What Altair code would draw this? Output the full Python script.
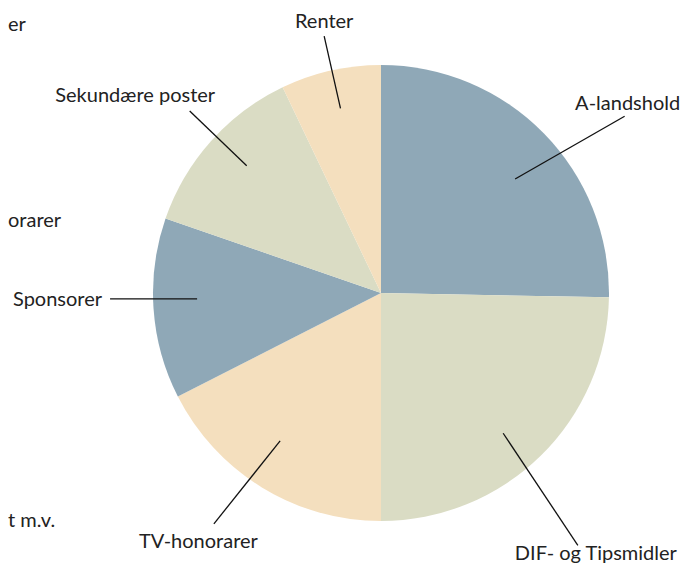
import math
import altair as alt
import pandas as pd

# ---- data ----
categories = ["A-landshold", "DIF- og Tipsmidler", "TV-honorarer", "Sponsorer", "Sekundære poster", "Renter"]
shares = [25.3, 24.7, 17.5, 12.8, 12.6, 7.1]
colour_groups = ["blå", "grøn", "fersken", "blå", "grøn", "fersken"]
edge_fragments = ["er", "orarer", "t m.v."]

# ---- layout / style ----
W, H = 676, 556
CX, CY, R = 373, 285, 228
FONT = "Lato"
FS = 20
TXT = "#222222"
palette_domain = ["blå", "grøn", "fersken"]
palette_range = ["#8fa8b7", "#dadcc4", "#f4dfbe"]

# leader layout per label: (d_ang_in, r_in, d_ang_out, r_out, text_dx, text_dy, align)
leader = {
    "A-landshold": (4.1, 176, 8.5, 301, 3, -6, "center"),
    "DIF- og Tipsmidler": (3.4, 186, 6.5, 320, 18, 15, "center"),
    "TV-honorarer": (2.8, 179, 4.4, 285, -15.5, 24, "center"),
    "Sponsorer": (2.1, 184, 2.7, 271, -8, 7, "right"),
    "Sekundære poster": (1.7, 185, 1.8, 264, -54.5, -9, "center"),
    "Renter": (0.4, 189, 0.3, 263, 0, -8, "center"),
}
frag_y = [23, 219, 519]

df = pd.DataFrame({"kategori": categories, "andel": shares, "gruppe": colour_groups,
                   "orden": list(range(len(categories)))})

total = sum(shares)
rows = []
cum = 0.0
for c, v in zip(categories, shares):
    mid = (cum + v / 2) / total * 360
    cum += v
    dai, ri, dao, ro, tdx, tdy, al = leader[c]
    ai = math.radians(mid + dai)
    ao = math.radians(mid + dao)
    x1, y1 = CX + ri * math.sin(ai), CY - ri * math.cos(ai)
    x2, y2 = CX + ro * math.sin(ao), CY - ro * math.cos(ao)
    rows.append({"kategori": c, "x": x1, "y": y1, "x2": x2, "y2": y2,
                 "tx": x2 + tdx, "ty": y2 + tdy, "align": al})
lines = pd.DataFrame(rows)

frags = pd.DataFrame({"t": edge_fragments, "tx": [0] * len(edge_fragments), "ty": frag_y})

xs = alt.Scale(domain=[0, W], range=[0, W])
ys = alt.Scale(domain=[0, H], range=[0, H])

pie = alt.Chart(df).mark_arc(outerRadius=R).encode(
    theta=alt.Theta("andel:Q", stack=True),
    order=alt.Order("orden:Q", sort="ascending"),
    color=alt.Color("gruppe:N", scale=alt.Scale(domain=palette_domain, range=palette_range), legend=None),
    x=alt.value(CX),
    y=alt.value(CY),
)

rules = alt.Chart(lines).mark_rule(color="#111111", strokeWidth=1.3).encode(
    x=alt.X("x:Q", scale=xs, axis=None),
    y=alt.Y("y:Q", scale=ys, axis=None),
    x2="x2:Q",
    y2="y2:Q",
)

def label_layer(align):
    return alt.Chart(lines).transform_filter(alt.datum.align == align).mark_text(
        font=FONT, fontSize=FS, color=TXT, align=align, baseline="alphabetic"
    ).encode(
        x=alt.X("tx:Q", scale=xs, axis=None),
        y=alt.Y("ty:Q", scale=ys, axis=None),
        text="kategori:N",
    )

frag_layer = alt.Chart(frags).mark_text(
    font=FONT, fontSize=FS, color=TXT, align="left", baseline="alphabetic"
).encode(
    x=alt.X("tx:Q", scale=xs, axis=None),
    y=alt.Y("ty:Q", scale=ys, axis=None),
    text="t:N",
)

chart = alt.layer(pie, rules, label_layer("center"), label_layer("right"), frag_layer).properties(
    width=W, height=H, padding=0, autosize=alt.AutoSizeParams(type="none")
).configure_view(stroke=None)

chart.save("out.html", embed_options={"renderer": "svg", "actions": False})
